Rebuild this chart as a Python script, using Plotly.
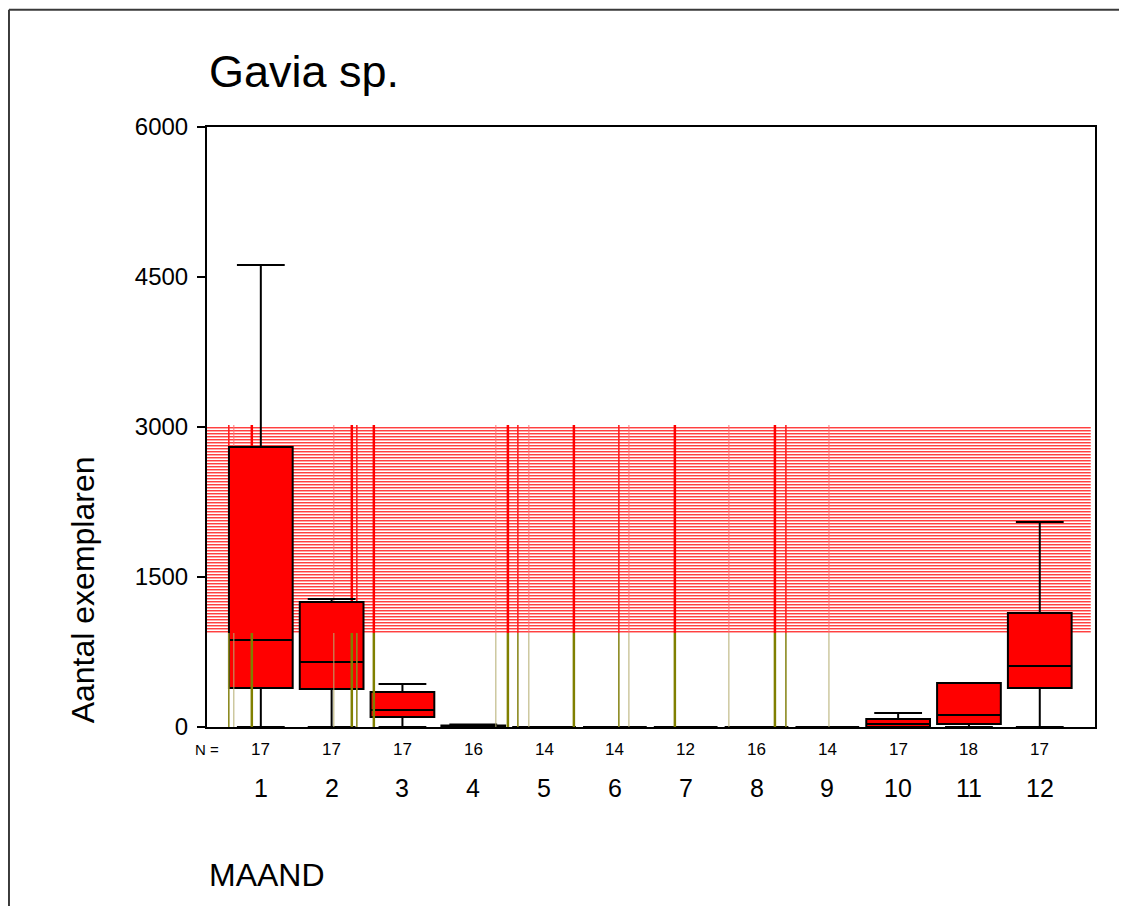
import plotly.graph_objects as go

# ---------------- data ----------------
months = [1, 2, 3, 4, 5, 6, 7, 8, 9, 10, 11, 12]
n_counts = [17, 17, 17, 16, 14, 14, 12, 16, 14, 17, 18, 17]
lower_fence = [0, 0, 0, 0, 0, 0, 0, 0, 0, 0, 0, 0]
q1_vals = [390, 380, 100, 0, 0, 0, 0, 0, 0, 0, 30, 390]
median_vals = [870, 650, 170, 0, 0, 0, 0, 0, 0, 30, 120, 610]
q3_vals = [2800, 1250, 350, 15, 0, 0, 0, 0, 0, 80, 440, 1140]
upper_fence = [4620, 1280, 430, 25, 0, 0, 0, 0, 0, 140, 440, 2050]
y_ticks = [0, 1500, 3000, 4500, 6000]

# rendering-artifact lines seen in the reference picture
artifact_x = [0.548, 0.619, 0.873, 2.031, 2.285, 2.356, 2.596, 4.319, 4.489,
              4.630, 4.785, 5.421, 6.056, 6.198, 6.847, 7.610, 8.260, 8.415, 9.023]
artifact_w = ["m", "t", "k", "t", "k", "m", "k", "t", "k",
              "m", "t", "k", "m", "t", "k", "t", "k", "m", "t"]
band_top = 3000
band_bottom = 940
band_step = 30

FONT = "Liberation Sans, Arial, sans-serif"
X_RANGE = [0.24, 12.78]
BAND_RIGHT = 12.72

fig = go.Figure()
shapes = []

# striped band (below the boxes); half-pixel offset keeps the 1px lines crisp
v = band_top - 5
while v >= band_bottom:
    shapes.append(dict(type="line", xref="x", yref="y", x0=X_RANGE[0], x1=BAND_RIGHT,
                       y0=v, y1=v, layer="below",
                       line=dict(color="#ff4040", width=1)))
    shapes.append(dict(type="line", xref="x", yref="y", x0=X_RANGE[0], x1=BAND_RIGHT,
                       y0=v - 10, y1=v - 10, layer="below",
                       line=dict(color="#ffa8a8", width=1)))
    v -= band_step

widths = {"k": 2.5, "m": 1.6, "t": 1.0}
red_cols = {"k": "#ff0000", "m": "#ff2020", "t": "#ff7070"}
olive_cols = {"k": "#808000", "m": "#8c8a20", "t": "#b5ad70"}

# red upper parts of artifact lines (below the boxes)
for xv, wc in zip(artifact_x, artifact_w):
    shapes.append(dict(type="line", xref="x", yref="y", x0=xv, x1=xv,
                       y0=band_top + 20, y1=band_bottom, layer="below",
                       line=dict(color=red_cols[wc], width=widths[wc])))

# boxes
fig.add_trace(go.Box(
    x=months, q1=q1_vals, median=median_vals, q3=q3_vals,
    lowerfence=lower_fence, upperfence=upper_fence,
    width=0.9, whiskerwidth=0.75,
    fillcolor="#ff0000", line=dict(color="#000000", width=2),
    boxpoints=False, showlegend=False,
))

# olive lower parts (on top of boxes)
for xv, wc in zip(artifact_x, artifact_w):
    fig.add_trace(go.Scatter(x=[xv, xv], y=[band_bottom, 0], mode="lines",
                             line=dict(color=olive_cols[wc], width=widths[wc]),
                             hoverinfo="skip", showlegend=False))

annotations = []
# N row
annotations.append(dict(text="N =", x=0, xref="paper", y=-0.0383, yref="paper",
                        showarrow=False, xanchor="center", yanchor="middle",
                        font=dict(family=FONT, size=15, color="#000")))
for m, n in zip(months, n_counts):
    annotations.append(dict(text=str(n), x=m, xref="x", y=-0.0383, yref="paper",
                            showarrow=False, xanchor="center", yanchor="middle",
                            font=dict(family=FONT, size=17, color="#000")))
    annotations.append(dict(text=str(m), x=m, xref="x", y=-0.1017, yref="paper",
                            showarrow=False, xanchor="center", yanchor="middle",
                            font=dict(family=FONT, size=25, color="#000")))
annotations.append(dict(text="MAAND", x=0.0, xref="paper", y=-0.2467, yref="paper",
                        showarrow=False, xanchor="left", yanchor="middle",
                        font=dict(family=FONT, size=32, color="#000")))
annotations.append(dict(text="Gavia sp.", x=0.0, xref="paper", y=1.0917, yref="paper",
                        showarrow=False, xanchor="left", yanchor="middle",
                        font=dict(family=FONT, size=45, color="#000")))
annotations.append(dict(text="Aantal exemplaren", x=-0.1395, xref="paper", y=0.228,
                        yref="paper", showarrow=False, textangle=-90,
                        xanchor="center", yanchor="middle",
                        font=dict(family=FONT, size=32, color="#000")))

# outer frame (left and top edges)
shapes += [
    dict(type="line", xref="paper", yref="paper", x0=-0.2230, x1=-0.2230,
         y0=1.1955, y1=-0.32, line=dict(color="#3a3a3a", width=2)),
    dict(type="line", xref="paper", yref="paper", x0=-0.2230, x1=1.05,
         y0=1.1955, y1=1.1955, line=dict(color="#3a3a3a", width=2)),
]

fig.update_layout(
    width=1119, height=898,
    margin=dict(l=199, r=32, t=119, b=179),
    paper_bgcolor="white", plot_bgcolor="white",
    annotations=annotations, shapes=shapes,
    xaxis=dict(range=X_RANGE, showticklabels=False, ticks="", showgrid=False,
               zeroline=False, showline=True, mirror=True,
               linecolor="#000", linewidth=2),
    yaxis=dict(range=[0, 6000], tickvals=y_ticks, ticktext=[str(t) for t in y_ticks],
               ticks="outside", ticklen=8, tickwidth=2, tickcolor="#000",
               ticklabelstandoff=4,
               tickfont=dict(family=FONT, size=24, color="#000"),
               showgrid=False, zeroline=False, showline=True, mirror=True,
               linecolor="#000", linewidth=2),
)

fig.write_html("out.html")
